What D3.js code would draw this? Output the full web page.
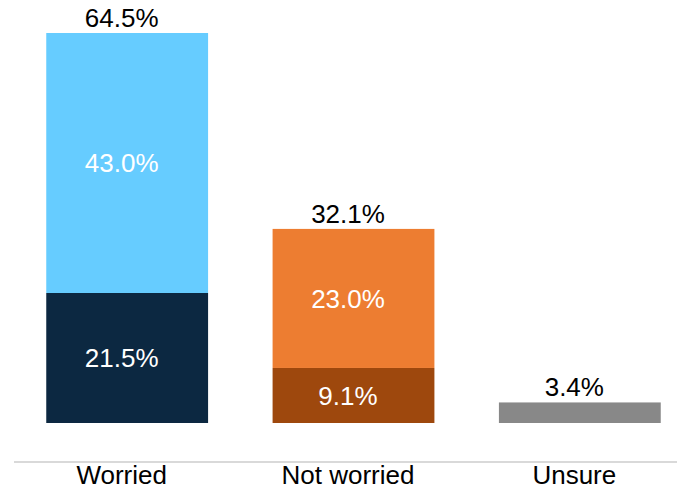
<!DOCTYPE html>
<html>
<head>
<meta charset="utf-8">
<script src="https://cdn.jsdelivr.net/npm/d3@7"></script>
<style>
  body { margin: 0; background: #fff; }
  svg text { font-family: "Liberation Sans", Arial, Helvetica, sans-serif; }
</style>
</head>
<body>
<div id="chart"></div>
<script>
const categories = ['Worried', 'Not worried', 'Unsure'];
// bottom (strong) segment and top (mild) segment per category
const strongValues = [21.5, 9.1, 3.4];
const mildValues = [43.0, 23.0, 0];
const totals = [64.5, 32.1, 3.4];
const strongColors = ['#0c2841', '#9e480d', '#888888'];
const mildColors = ['#66ccff', '#ed7d31', '#888888'];

const width = 677;
const height = 492;
const labelShift = -5.5;
const fontSize = '26px';

const svg = d3.select('#chart')
    .append('svg')
    .attr('width', width)
    .attr('height', height);

const x = d3.scaleBand()
    .domain(categories)
    .range([14, 693])
    .paddingInner(0.285)
    .paddingOuter(0.1425);

const y = d3.scaleLinear()
    .domain([0, 64.5])
    .range([423, 33]);

const fmt = (v) => v.toFixed(1) + '%';

let rows = categories.map((c, i) => ({
    name: c,
    strong: strongValues[i],
    mild: mildValues[i],
    total: totals[i],
    i: i
}));

let g = svg.append('g');

// strong segment
g.selectAll('.strong')
    .data(rows)
    .enter()
    .append('rect')
    .attr('class', 'strong')
    .attr('x', d => x(d.name))
    .attr('width', x.bandwidth())
    .attr('y', d => y(d.strong))
    .attr('height', d => y(0) - y(d.strong))
    .attr('fill', d => strongColors[d.i]);

// mild segment
g.selectAll('.mild')
    .data(rows.filter(d => d.mild > 0))
    .enter()
    .append('rect')
    .attr('class', 'mild')
    .attr('x', d => x(d.name))
    .attr('width', x.bandwidth())
    .attr('y', d => y(d.strong + d.mild))
    .attr('height', d => y(d.strong) - y(d.strong + d.mild))
    .attr('fill', d => mildColors[d.i]);

const cx = d => x(d.name) + x.bandwidth() / 2 + labelShift;

// inside labels
let inner = rows.filter(d => d.mild > 0);
g.selectAll('.lbl-strong')
    .data(inner)
    .enter()
    .append('text')
    .attr('x', cx)
    .attr('y', d => (y(0) + y(d.strong)) / 2)
    .attr('dy', '0.35em')
    .attr('text-anchor', 'middle')
    .attr('fill', '#fff')
    .style('font-size', fontSize)
    .text(d => fmt(d.strong));

g.selectAll('.lbl-mild')
    .data(inner)
    .enter()
    .append('text')
    .attr('x', cx)
    .attr('y', d => (y(d.strong) + y(d.strong + d.mild)) / 2)
    .attr('dy', '0.35em')
    .attr('text-anchor', 'middle')
    .attr('fill', '#fff')
    .style('font-size', fontSize)
    .text(d => fmt(d.mild));

// totals above
g.selectAll('.lbl-total')
    .data(rows)
    .enter()
    .append('text')
    .attr('x', cx)
    .attr('y', d => y(d.total) - 6)
    .attr('text-anchor', 'middle')
    .attr('fill', '#000')
    .style('font-size', fontSize)
    .text(d => fmt(d.total));

// category axis
const axis = svg.append('g')
    .attr('transform', 'translate(0,462)')
    .call(d3.axisBottom(x).tickSize(0).tickPadding(4));
axis.select('.domain')
    .attr('d', 'M' + x.range()[0] + ',0H' + x.range()[1])
    .attr('stroke', '#d9d9d9')
    .attr('stroke-width', 2);
axis.selectAll('text')
    .attr('x', labelShift)
    .attr('fill', '#000')
    .style('font-size', fontSize)
    .style('font-family', '"Liberation Sans", Arial, sans-serif');
</script>
</body>
</html>
